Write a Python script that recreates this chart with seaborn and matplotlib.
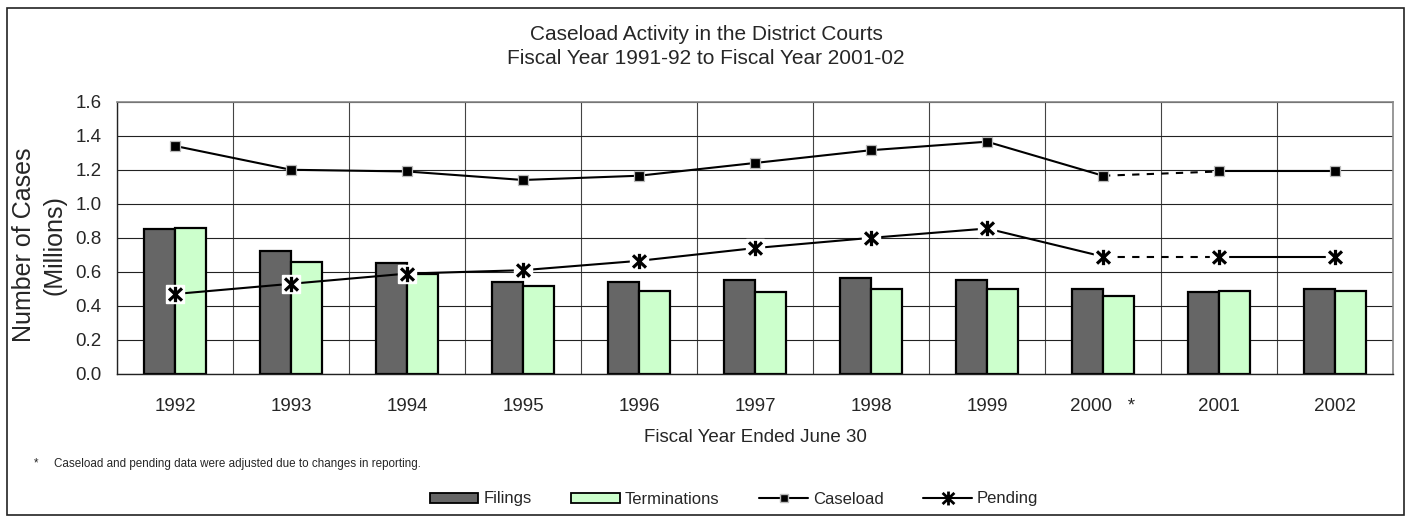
import numpy as np
import pandas as pd
import matplotlib
matplotlib.use("Agg")
import matplotlib.pyplot as plt
import seaborn as sns
from matplotlib.path import Path
from matplotlib.patches import Rectangle, Patch
from matplotlib.lines import Line2D

# ---- data ----
years = ["1992", "1993", "1994", "1995", "1996", "1997", "1998", "1999", "2000", "2001", "2002"]
year_labels = ["1992", "1993", "1994", "1995", "1996", "1997", "1998", "1999", "2000   *", "2001", "2002"]
filings = [0.85, 0.72, 0.65, 0.54, 0.54, 0.55, 0.565, 0.55, 0.50, 0.48, 0.50]
terminations = [0.86, 0.66, 0.59, 0.52, 0.49, 0.48, 0.50, 0.50, 0.46, 0.49, 0.49]
caseload = [1.34, 1.20, 1.19, 1.14, 1.165, 1.24, 1.315, 1.365, 1.165, 1.19, 1.19]
pending = [0.47, 0.53, 0.59, 0.61, 0.665, 0.74, 0.80, 0.855, 0.69, 0.69, 0.69]
y_ticks = [0.0, 0.2, 0.4, 0.6, 0.8, 1.0, 1.2, 1.4, 1.6]

sns.set_style("white")
plt.rcParams["font.family"] = ["Liberation Sans", "DejaVu Sans"]

df = pd.DataFrame({
    "year": years * 2,
    "value": filings + terminations,
    "series": ["Filings"] * len(years) + ["Terminations"] * len(years),
})

W, H = 1408, 522
fig = plt.figure(figsize=(W / 100, H / 100), dpi=100)
ax = fig.add_axes([117 / W, 1 - 374 / H, (1393 - 117) / W, (374 - 101.7) / H])
plot_cx = (117 + 1393) / 2 / W

ax.set_axisbelow(True)
sns.barplot(data=df, x="year", y="value", hue="series", order=years,
            hue_order=["Filings", "Terminations"],
            palette=["#666666", "#ccffcc"], saturation=1, width=0.54, gap=0,
            edgecolor="black", linewidth=1.6, legend=False, ax=ax)

xs = np.arange(len(years))
star = Path([(0, -1), (0, 1), (-0.85, -0.8), (0.85, 0.8), (-0.85, 0.8), (0.85, -0.8)],
            [Path.MOVETO, Path.LINETO] * 3)

segments = [(0, 8, "-"), (8, 9, (0, (3.5, 3.5))), (9, 10, "-")]
for series in (caseload, pending):
    for a, b, ls in segments:
        ax.plot(xs[a:b + 1], series[a:b + 1], color="black", lw=1.5, ls=ls,
                zorder=4, solid_capstyle="butt")

ax.plot(xs, caseload, ls="none", marker="s", ms=7, mfc="black", mec="#bbbbbb",
        mew=0.9, zorder=6)
ax.plot(xs, pending, ls="none", marker="s", ms=13, mfc="white", mec="white",
        zorder=5)
ax.plot(xs, pending, ls="none", marker=star, ms=11, mec="black", mew=2.3,
        zorder=6)

ax.set_xlim(-0.5, len(years) - 0.5)
ax.set_ylim(0, 1.6)
ax.set_yticks(y_ticks)
ax.set_yticklabels([f"{v:.1f}" for v in y_ticks], fontsize=13.5)
ax.set_xticks(xs)
ax.set_xticklabels(year_labels, fontsize=13.5)
ax.set_xticks(np.arange(-0.5, len(years), 1), minor=True)
ax.tick_params(axis="x", which="major", length=0, pad=17)
ax.tick_params(axis="x", which="minor", length=6, width=1, color="#333333", direction="out")
ax.tick_params(axis="y", which="major", length=6, width=1, color="#333333", direction="out", pad=5)
ax.grid(axis="y", which="major", color="#222222", lw=0.8)
ax.grid(axis="x", which="minor", color="#444444", lw=0.8)
ax.set_xlabel("")
ax.set_ylabel("")
for s in ("left", "bottom"):
    ax.spines[s].set_color("#222222")
    ax.spines[s].set_linewidth(1.0)
for s in ("top", "right"):
    ax.spines[s].set_color("#888888")
    ax.spines[s].set_linewidth(1.2)

# texts
title_cx = 706 / W
fig.text(title_cx, 1 - 35 / H, "Caseload Activity in the District Courts", ha="center", va="center", fontsize=15)
fig.text(title_cx, 1 - 58.5 / H, "Fiscal Year 1991-92 to Fiscal Year 2001-02", ha="center", va="center", fontsize=15)
fig.text(24 / W, 1 - 245 / H, "Number of Cases", rotation=90, ha="center", va="center", fontsize=18)
fig.text(54 / W, 1 - 245 / H, "(Millions)", rotation=90, ha="center", va="center", fontsize=18)
fig.text(plot_cx, 1 - 437 / H, "Fiscal Year Ended June 30", ha="center", va="center", fontsize=13.5)
fig.text(36 / W, 1 - 463 / H, "*", ha="center", va="center", fontsize=8.4)
fig.text(54 / W, 1 - 464 / H, "Caseload and pending data were adjusted due to changes in reporting.",
         ha="left", va="center", fontsize=8.4)

handles = [
    Patch(facecolor="#666666", edgecolor="black", lw=1.3, label="Filings"),
    Patch(facecolor="#ccffcc", edgecolor="black", lw=1.3, label="Terminations"),
    Line2D([0], [0], color="black", lw=1.5, marker="s", ms=6, mfc="black", mec="#bbbbbb", label="Caseload"),
    Line2D([0], [0], color="black", lw=1.5, marker=star, ms=10, mec="black", mew=2.0, label="Pending"),
]
fig.legend(handles=handles, loc="center", bbox_to_anchor=(734 / W, 1 - 499 / H), ncol=4,
           frameon=False, fontsize=12, handlelength=2.9, handleheight=0.55,
           columnspacing=2.4, handletextpad=0.3)

fig.patches.append(Rectangle((7 / W, 1 - 515 / H), (1404 - 7) / W, (515 - 8) / H,
                             transform=fig.transFigure, fill=False, edgecolor="#222222", lw=1.2))

fig.savefig("out.png", dpi=100)
